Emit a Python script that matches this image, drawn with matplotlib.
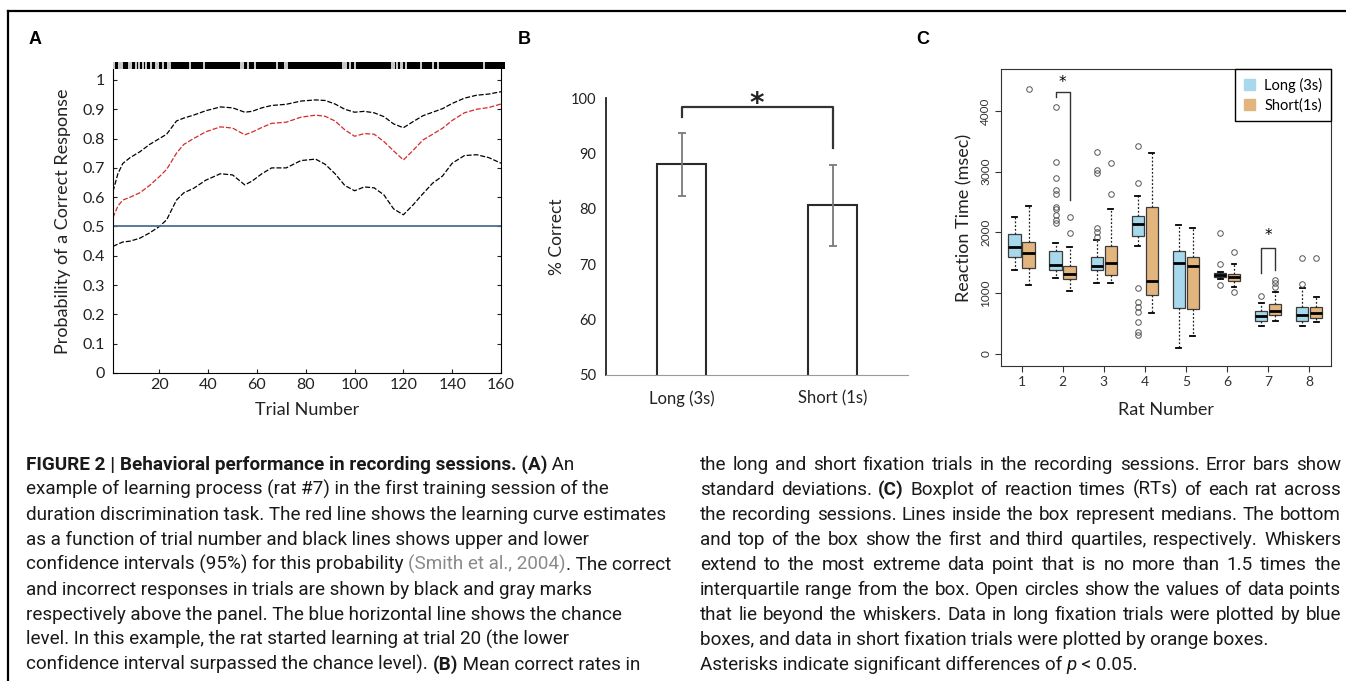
import re
import matplotlib
matplotlib.use('Agg')
import matplotlib.pyplot as plt
from matplotlib.patches import Patch
from matplotlib.lines import Line2D

# ---- panel A : learning curve (rat #7), first training session
trial = [1, 3, 5, 8, 12, 16, 20, 23, 27, 30, 34, 39, 45, 50, 55, 58, 62, 66, 72, 78,
         84, 88, 92, 96, 100, 104, 108, 112, 116, 120, 124, 128, 132, 136, 140, 145, 150, 155, 160]
upper = [0.62, 0.68, 0.715, 0.735, 0.755, 0.78, 0.80, 0.815, 0.86, 0.87, 0.88, 0.895, 0.908, 0.905,
         0.89, 0.893, 0.905, 0.913, 0.917, 0.928, 0.932, 0.93, 0.918, 0.90, 0.89, 0.893, 0.888, 0.875,
         0.85, 0.837, 0.858, 0.878, 0.89, 0.902, 0.92, 0.938, 0.948, 0.952, 0.96]
estimate = [0.53, 0.57, 0.59, 0.60, 0.615, 0.64, 0.67, 0.695, 0.75, 0.78, 0.80, 0.823, 0.84, 0.836,
            0.813, 0.822, 0.838, 0.852, 0.856, 0.873, 0.88, 0.876, 0.86, 0.83, 0.808, 0.817, 0.815, 0.79,
            0.758, 0.727, 0.76, 0.795, 0.815, 0.835, 0.862, 0.888, 0.90, 0.906, 0.918]
lower = [0.432, 0.44, 0.447, 0.45, 0.46, 0.478, 0.50, 0.523, 0.59, 0.615, 0.63, 0.658, 0.68, 0.676,
         0.642, 0.655, 0.68, 0.70, 0.70, 0.725, 0.73, 0.712, 0.68, 0.64, 0.622, 0.635, 0.632, 0.608,
         0.56, 0.54, 0.574, 0.612, 0.648, 0.672, 0.716, 0.742, 0.745, 0.735, 0.716]
incorrect = [1, 3, 4, 7, 8, 10, 11, 13, 14, 16, 18, 19, 21, 23, 24, 32, 38, 53, 54, 56, 59, 68, 71, 72,
             95, 96, 98, 100, 115, 116, 117, 119, 121, 127, 132, 134, 153]
chance = 0.5

# ---- panel B : mean correct rate
cond = ['Long (3s)', 'Short (1s)']
correct_mean = [88.0, 80.6]
correct_sd = [5.7, 7.3]

# ---- panel C : reaction times per rat
rats = [1, 2, 3, 4, 5, 6, 7, 8]
long_med = [1765, 1458, 1447, 2137, 1490, 1299, 625, 636]
long_q1 = [1600, 1381, 1381, 1940, 751, 1260, 543, 543]
long_q3 = [1973, 1693, 1589, 2269, 1693, 1326, 707, 767]
long_lo = [1381, 1244, 1162, 1781, 93, 1240, 460, 460]
long_hi = [2258, 1819, 1874, 2603, 2121, 1350, 833, 1080]
long_out = [[], [4066, 3160, 2890, 2700, 2640, 2420, 2380, 2290, 2200, 2160],
            [3326, 3025, 2970, 2066, 2011, 1929],
            [3420, 2806, 1080, 860, 778, 696, 532, 367, 312],
            [], [1984, 1480, 1134], [954], [1573, 1145]]
short_med = [1655, 1315, 1502, 1195, 1447, 1260, 712, 680]
short_q1 = [1408, 1228, 1299, 970, 734, 1206, 641, 586]
short_q3 = [1847, 1452, 1781, 2422, 1600, 1315, 822, 778]
short_lo = [1134, 1041, 1162, 680, 296, 1107, 543, 532]
short_hi = [2439, 1765, 2384, 3299, 2066, 1480, 1025, 943]
short_out = [[4351], [2258, 1984], [3135, 2630], [], [], [1671, 1014], [1217, 1173, 1107], [1573]]

W, H = 1346, 681
fig = plt.figure(figsize=(W / 100, H / 100), dpi=100)
plt.rcParams['font.family'] = ['Lato', 'DejaVu Sans']

def box(x0, y0, x1, y1):
    # pixel box (top-left origin) -> figure fractions
    return [x0 / W, 1 - y1 / H, (x1 - x0) / W, (y1 - y0) / H]

# frame around the figure
fig.add_artist(Line2D([8 / W, 8 / W], [0, 1 - 11 / H], color='k', lw=1.6))
fig.add_artist(Line2D([8 / W, 1], [1 - 11 / H, 1 - 11 / H], color='k', lw=1.6))

lab = dict(fontsize=13, fontweight='bold', family=['Liberation Sans', 'DejaVu Sans'], va='center')
fig.text(29 / W, 1 - 40 / H, 'A', **lab)
fig.text(518 / W, 1 - 40 / H, 'B', **lab)
fig.text(916 / W, 1 - 40 / H, 'C', **lab)

# ---------------- A
axA = fig.add_axes(box(113, 69, 501, 373))
axA.plot(trial, upper, color='k', lw=0.9, ls=(0, (4, 1.5)))
axA.plot(trial, lower, color='k', lw=0.9, ls=(0, (4, 1.5)))
axA.plot(trial, estimate, color='#d42a2a', lw=0.9, ls=(0, (4, 1.5)))
axA.axhline(chance, color='#4d6e92', lw=1.3)
axA.set_xlim(1, 160)
axA.set_ylim(0, 1.0375)
axA.set_xticks(range(20, 161, 20))
axA.set_yticks([i / 10 for i in range(11)])
axA.set_yticklabels(['0'] + ['%.1f' % (i / 10) for i in range(1, 10)] + ['1'])
axA.spines['top'].set_visible(False)
axA.tick_params(direction='in', length=3, labelsize=11.5, right=True, colors='#222')
axA.tick_params(axis='y', pad=6)
axA.set_xlabel('Trial Number', fontsize=13, color='#222', labelpad=7)
axA.set_ylabel('Probability of a Correct Response', fontsize=13, color='#222', labelpad=8)

# response raster above panel A
axR = fig.add_axes(box(113, 62, 505, 68.5))
axR.set_facecolor('k')
axR.bar(incorrect, 1, width=0.85, color='#c8c8c8')
axR.set_xlim(0.5, 161.5)
axR.set_ylim(0, 1)
axR.set_xticks([])
axR.set_yticks([])
for s in axR.spines.values():
    s.set_visible(False)

# ---------------- B
axB = fig.add_axes(box(606, 98, 908, 375))
axB.bar([0, 1], correct_mean, width=0.32, color='white', edgecolor='#2a2a2a', lw=1.5)
axB.errorbar([0, 1], correct_mean, yerr=correct_sd, fmt='none', ecolor='#7a7a7a', elinewidth=1.3,
             capsize=3, capthick=1.3)
axB.set_xlim(-0.5, 1.5)
axB.set_ylim(50, 100)
axB.set_xticks([0, 1])
axB.set_xticklabels(cond)
axB.set_yticks(range(50, 101, 10))
axB.spines['top'].set_visible(False)
axB.spines['right'].set_visible(False)
axB.spines['left'].set_color('#222')
axB.spines['left'].set_linewidth(1.3)
axB.spines['bottom'].set_color('#9a9a9a')
axB.tick_params(length=0, labelsize=10.5, colors='#222', pad=7)
axB.tick_params(axis='x', labelsize=12, pad=11)
axB.set_ylabel('% Correct', fontsize=12.5, color='#222', labelpad=4)
axB.plot([0, 0, 1, 1], [96.6, 98.3, 98.3, 91.0], color='#333', lw=1.6, clip_on=False)
axB.text(0.5, 99.0, '*', fontsize=20, fontweight='bold', ha='center', va='center',
         family='DejaVu Sans', color='#222')

# ---------------- C
axC = fig.add_axes(box(1001, 69, 1331, 366))
def stats(med, q1, q3, lo, hi, out):
    return [dict(med=med[i], q1=q1[i], q3=q3[i], whislo=lo[i], whishi=hi[i], fliers=out[i])
            for i in range(len(med))]

long_col = '#a7d8ec'
short_col = '#e2b47e'
for st, off, col in [(stats(long_med, long_q1, long_q3, long_lo, long_hi, long_out), -0.17, long_col),
                     (stats(short_med, short_q1, short_q3, short_lo, short_hi, short_out), 0.17, short_col)]:
    axC.bxp(st, positions=[r + off for r in rats], widths=0.3, patch_artist=True, manage_ticks=False,
            capwidths=0.12,
            boxprops=dict(facecolor=col, edgecolor='#3c3c3c', lw=0.9),
            medianprops=dict(color='k', lw=2),
            whiskerprops=dict(color='#222', lw=0.9, ls=(0, (1.5, 1.5))),
            capprops=dict(color='k', lw=1.3),
            flierprops=dict(marker='o', mfc='none', mec='#555', ms=4, mew=0.7))
axC.set_xlim(0.5, 8.53)
axC.set_ylim(-197, 4688)
axC.set_xticks(rats)
axC.set_yticks([0, 1000, 2000, 3000, 4000])
axC.tick_params(direction='out', length=4, colors='#333', labelsize=10)
axC.tick_params(axis='y', labelsize=8.5, pad=3)
plt.setp(axC.get_yticklabels(), rotation=90, va='center')
for s in axC.spines.values():
    s.set_color('#333')
axC.set_xlabel('Rat Number', fontsize=13, color='#222', labelpad=10)
axC.set_ylabel('Reaction Time (msec)', fontsize=13, color='#222', labelpad=6)
axC.plot([1.83, 1.83, 2.17, 2.17], [4231, 4313, 4313, 2532], color='#333', lw=1)
axC.text(2, 4460, '*', fontsize=11, ha='center', va='center', family='DejaVu Sans')
axC.plot([6.83, 6.83, 7.17, 7.17], [1326, 1737, 1737, 1381], color='#333', lw=1)
axC.text(7, 1950, '*', fontsize=11, ha='center', va='center', family='DejaVu Sans')
leg = axC.legend([Patch(color=long_col), Patch(color=short_col)], ['Long (3s)', 'Short(1s)'],
                 loc='upper right', borderaxespad=0, fancybox=False, fontsize=10.5,
                 handlelength=0.8, handleheight=0.8, handletextpad=0.6, labelspacing=0.35,
                 borderpad=0.6, edgecolor='k', framealpha=1)
leg.get_frame().set_linewidth(1)

# ---------------- caption
left_lines = [
    [('FIGURE 2 | Behavioral performance in recording sessions. (A)', 'b'), (' An', 'n')],
    [('example of learning process (rat #7) in the first training session of the', 'n')],
    [('duration discrimination task. The red line shows the learning curve estimates', 'n')],
    [('as a function of trial number and black lines shows upper and lower', 'n')],
    [('confidence intervals (95%) for this probability ', 'n'), ('(Smith et al., 2004)', 'g'),
     ('. The correct', 'n')],
    [('and incorrect responses in trials are shown by black and gray marks', 'n')],
    [('respectively above the panel. The blue horizontal line shows the chance', 'n')],
    [('level. In this example, the rat started learning at trial 20 (the lower', 'n')],
    [('confidence interval surpassed the chance level). ', 'n'), ('(B)', 'b'),
     (' Mean correct rates in', 'n')],
]
right_lines = [
    [('the long and short fixation trials in the recording sessions. Error bars show', 'n')],
    [('standard deviations. ', 'n'), ('(C)', 'b'), (' Boxplot of reaction times (RTs) of each rat across', 'n')],
    [('the recording sessions. Lines inside the box represent medians. The bottom', 'n')],
    [('and top of the box show the first and third quartiles, respectively. Whiskers', 'n')],
    [('extend to the most extreme data point that is no more than 1.5 times the', 'n')],
    [('interquartile range from the box. Open circles show the values of data points', 'n')],
    [('that lie beyond the whiskers. Data in long fixation trials were plotted by blue', 'n')],
    [('boxes, and data in short fixation trials were plotted by orange boxes.', 'n')],
    [('Asterisks indicate significant differences of ', 'n'), ('p', 'i'), (' < 0.05.', 'n')],
]
cap_font = ['Roboto', 'DejaVu Sans']
sty = {'n': {'color': '#1a1a1a'}, 'b': {'fontweight': 'bold', 'color': '#1a1a1a'},
       'g': {'color': '#8a8a8a'}, 'i': {'fontstyle': 'italic', 'color': '#1a1a1a'}}

fig.canvas.draw()
rend = fig.canvas.get_renderer()

def width(s, size, **kw):
    t = fig.text(0, 0, s, fontsize=size, family=cap_font, **kw)
    w = t.get_window_extent(rend).width
    t.remove()
    return w

cap_size = 10 * 642 / width(left_lines[2][0][0], 10)
space = width('a a', cap_size) - width('aa', cap_size)

def put_line(segs, x0, y, right=None):
    if right is None:
        # plain line: one text per style segment
        x = x0
        for txt, st in segs:
            fig.text(x / W, 1 - y / H, txt, fontsize=cap_size, family=cap_font, va='baseline', **sty[st])
            x += width(txt.rstrip(), cap_size, **sty[st]) + (space if txt.endswith(' ') else 0)
        return
    # justified line: one text per word
    pieces = []
    gap = False
    for txt, st in segs:
        for tok in re.split(r'( )', txt):
            if tok == ' ':
                gap = True
            elif tok:
                pieces.append((tok, st, gap))
                gap = False
    ws = [width(p[0], cap_size, **sty[p[1]]) for p in pieces]
    ngap = sum(1 for p in pieces[1:] if p[2])
    sp = (right - x0 - sum(ws)) / ngap
    x = x0
    for i, (tok, st, g) in enumerate(pieces):
        if i and g:
            x += sp
        fig.text(x / W, 1 - y / H, tok, fontsize=cap_size, family=cap_font, va='baseline', **sty[st])
        x += ws[i]

y0, dy = 470, 25
for i, segs in enumerate(left_lines):
    put_line(segs, 26, y0 + i * dy)
for i, segs in enumerate(right_lines):
    put_line(segs, 700, y0 + i * dy, right=1341 if i < 7 else None)

fig.savefig('out.png', dpi=100)
